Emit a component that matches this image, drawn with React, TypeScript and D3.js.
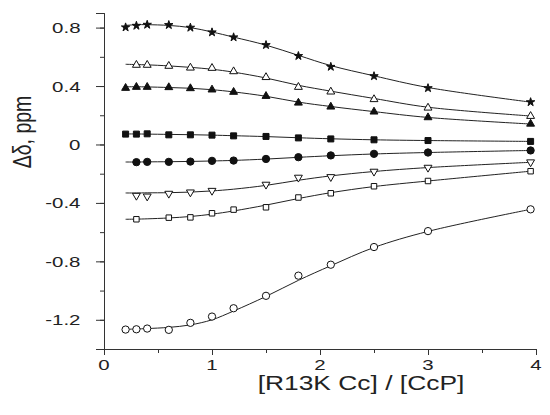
import React, { useEffect, useRef } from 'react';
import * as d3 from 'd3';

// ratio [R13K Cc]/[CcP]
const ratios = [0.2, 0.3, 0.4, 0.6, 0.8, 1.0, 1.2, 1.5, 1.8, 2.1, 2.5, 3.0, 3.95];

// measured points (null = no point at that ratio)
const starPts = [0.802, 0.813, 0.82, 0.818, 0.8, 0.768, 0.734, 0.681, 0.606, 0.532, 0.468, 0.386, 0.29];
const openTriPts = [null, 0.544, 0.544, 0.537, 0.525, 0.523, 0.5, 0.46, 0.393, 0.361, 0.309, 0.251, 0.194];
const fillTriPts = [0.386, 0.393, 0.393, 0.391, 0.384, 0.375, 0.359, 0.331, 0.285, 0.258, 0.224, 0.185, 0.141];
const fillSqPts = [0.071, 0.071, 0.073, 0.066, 0.066, 0.064, 0.059, 0.055, 0.045, 0.038, 0.032, 0.027, 0.021];
const fillCircPts = [null, -0.121, -0.119, -0.119, -0.117, -0.112, -0.11, -0.099, -0.087, -0.075, -0.064, -0.055, -0.041];
const invTriPts = [null, -0.35, -0.355, -0.336, -0.327, -0.316, null, -0.274, -0.226, -0.222, -0.185, -0.158, -0.121];
const openSqPts = [null, -0.512, null, -0.501, -0.499, -0.471, -0.446, -0.43, -0.363, -0.334, -0.286, -0.25, -0.183];
const openCircPts = [-1.267, -1.265, -1.26, -1.269, -1.221, -1.178, -1.121, -1.036, -0.898, -0.823, -0.702, -0.593, -0.444];

// fitted curves read at the same ratios
const starFit = [0.815, 0.82, 0.82, 0.815, 0.8, 0.77, 0.735, 0.68, 0.61, 0.54, 0.47, 0.39, 0.29];
const openTriFit = [0.549, 0.547, 0.545, 0.538, 0.528, 0.515, 0.495, 0.455, 0.405, 0.365, 0.315, 0.255, 0.195];
const fillTriFit = [0.395, 0.395, 0.394, 0.39, 0.385, 0.375, 0.36, 0.33, 0.29, 0.26, 0.225, 0.185, 0.14];
const fillSqFit = [0.072, 0.072, 0.071, 0.069, 0.067, 0.064, 0.06, 0.054, 0.046, 0.039, 0.032, 0.027, 0.021];
const fillCircFit = [-0.12, -0.12, -0.119, -0.118, -0.116, -0.113, -0.109, -0.1, -0.088, -0.077, -0.065, -0.055, -0.041];
const invTriFit = [-0.332, -0.332, -0.331, -0.33, -0.326, -0.318, -0.306, -0.28, -0.245, -0.215, -0.185, -0.158, -0.122];
const openSqFit = [-0.512, -0.511, -0.509, -0.503, -0.493, -0.477, -0.455, -0.415, -0.37, -0.33, -0.288, -0.25, -0.183];
const openCircFit = [-1.265, -1.263, -1.26, -1.252, -1.235, -1.2, -1.14, -1.04, -0.93, -0.83, -0.705, -0.595, -0.444];

const yTicks = [0.8, 0.4, 0, -0.4, -0.8, -1.2];
const yTickLabels = ['0.8', '0.4', '0', '-0.4', '-0.8', '-1.2'];
const xTicks = [0, 1, 2, 3, 4];
const xTickLabels = ['0', '1', '2', '3', '4'];

const series = [
  { pts: starPts, fit: starFit, symbol: d3.symbolStar, size: 22, filled: true, rotate: 0 },
  { pts: openTriPts, fit: openTriFit, symbol: d3.symbolTriangle, size: 27, filled: false, rotate: 0 },
  { pts: fillTriPts, fit: fillTriFit, symbol: d3.symbolTriangle, size: 27, filled: true, rotate: 0 },
  { pts: fillSqPts, fit: fillSqFit, symbol: d3.symbolSquare, size: 36, filled: true, rotate: 0 },
  { pts: fillCircPts, fit: fillCircFit, symbol: d3.symbolCircle, size: 42, filled: true, rotate: 0 },
  { pts: invTriPts, fit: invTriFit, symbol: d3.symbolTriangle, size: 27, filled: false, rotate: 180 },
  { pts: openSqPts, fit: openSqFit, symbol: d3.symbolSquare, size: 30, filled: false, rotate: 0 },
  { pts: openCircPts, fit: openCircFit, symbol: d3.symbolCircle, size: 42, filled: false, rotate: 0 },
];

export default function App() {
  const ref = useRef<SVGSVGElement>(null);

  useEffect(() => {
    const width = 550;
    const height = 415;
    const margin = { top: 13, right: 14, bottom: 66, left: 104 };
    const svg = d3.select(ref.current);
    svg.selectAll('*').remove();

    const x = d3.scaleLinear().domain([0, 4]).range([margin.left, width - margin.right]);
    const y = d3.scaleLinear().domain([-1.4, 0.9]).range([height - margin.bottom, margin.top]);

    const axisColor = '#333';
    const textColor = '#222';
    const font = 'Arial, "Liberation Sans", sans-serif';
    const stretch = 1.32; // the original text is widened horizontally

    // y axis: minor + major ticks
    const yAxis = svg.append('g').attr('transform', `translate(${margin.left},0)`);
    yAxis.call(
      d3.axisLeft(y).tickValues(d3.range(-1.4, 0.91, 0.2)).tickSize(4).tickFormat(() => '')
    );
    yAxis.append('g').call(
      d3.axisLeft(y).tickValues(yTicks).tickSize(8).tickFormat(() => '')
    );
    yAxis.selectAll('path.domain').attr('stroke', axisColor);
    yAxis.selectAll('line').attr('stroke', axisColor);

    svg.append('g')
      .selectAll('text')
      .data(yTicks)
      .enter()
      .append('text')
      .attr('transform', (d) => `translate(80.5,${y(d) + 5.5}) scale(${stretch},1)`)
      .attr('text-anchor', 'end')
      .attr('font-size', 15.5)
      .attr('font-family', font)
      .attr('fill', textColor)
      .text((_, i) => yTickLabels[i]);

    // x axis: minor + major ticks
    const xAxis = svg.append('g').attr('transform', `translate(0,${height - margin.bottom})`);
    xAxis.call(
      d3.axisBottom(x).tickValues(d3.range(0, 4.01, 0.5)).tickSize(4).tickFormat(() => '')
    );
    xAxis.append('g').call(
      d3.axisBottom(x).tickValues(xTicks).tickSize(6).tickFormat(() => '')
    );
    xAxis.selectAll('path.domain').attr('stroke', axisColor);
    xAxis.selectAll('line').attr('stroke', axisColor);

    svg.append('g')
      .selectAll('text')
      .data(xTicks)
      .enter()
      .append('text')
      .attr('transform', (d) => `translate(${x(d)},${height - margin.bottom + 21}) scale(${stretch},1)`)
      .attr('text-anchor', 'middle')
      .attr('font-size', 15.5)
      .attr('font-family', font)
      .attr('fill', textColor)
      .text((_, i) => xTickLabels[i]);

    // titles
    svg.append('text')
      .attr('transform', `translate(361,390) scale(${stretch},1)`)
      .attr('text-anchor', 'middle')
      .attr('font-size', 20)
      .attr('font-family', font)
      .attr('fill', textColor)
      .text('[R13K Cc] / [CcP]');

    svg.append('text')
      .attr('transform', `translate(31,132) scale(${stretch},1) rotate(-90)`)
      .attr('text-anchor', 'middle')
      .attr('font-size', 19.5)
      .attr('font-family', font)
      .attr('fill', textColor)
      .text('Δδ, ppm');

    const line = d3.line<number>()
      .x((_, i) => x(ratios[i]))
      .y((d) => y(d))
      .curve(d3.curveCatmullRom);

    series.forEach((s) => {
      svg.append('path')
        .attr('d', line(s.fit))
        .attr('fill', 'none')
        .attr('stroke', '#222')
        .attr('stroke-width', 1);

      const pts = ratios
        .map((r, i) => ({ r, v: s.pts[i] }))
        .filter((p) => p.v !== null) as { r: number; v: number }[];

      svg.append('g')
        .selectAll('path')
        .data(pts)
        .enter()
        .append('path')
        .attr('d', d3.symbol().type(s.symbol).size(s.size)())
        .attr('transform', (p) => `translate(${x(p.r)},${y(p.v)}) rotate(${s.rotate})`)
        .attr('fill', s.filled ? '#111' : '#fff')
        .attr('stroke', '#111')
        .attr('stroke-width', 1);
    });
  }, []);

  return (
    <svg
      ref={ref}
      width={550}
      height={415}
      style={{ position: 'absolute', left: 0, top: 0, background: '#fff' }}
    />
  );
}
